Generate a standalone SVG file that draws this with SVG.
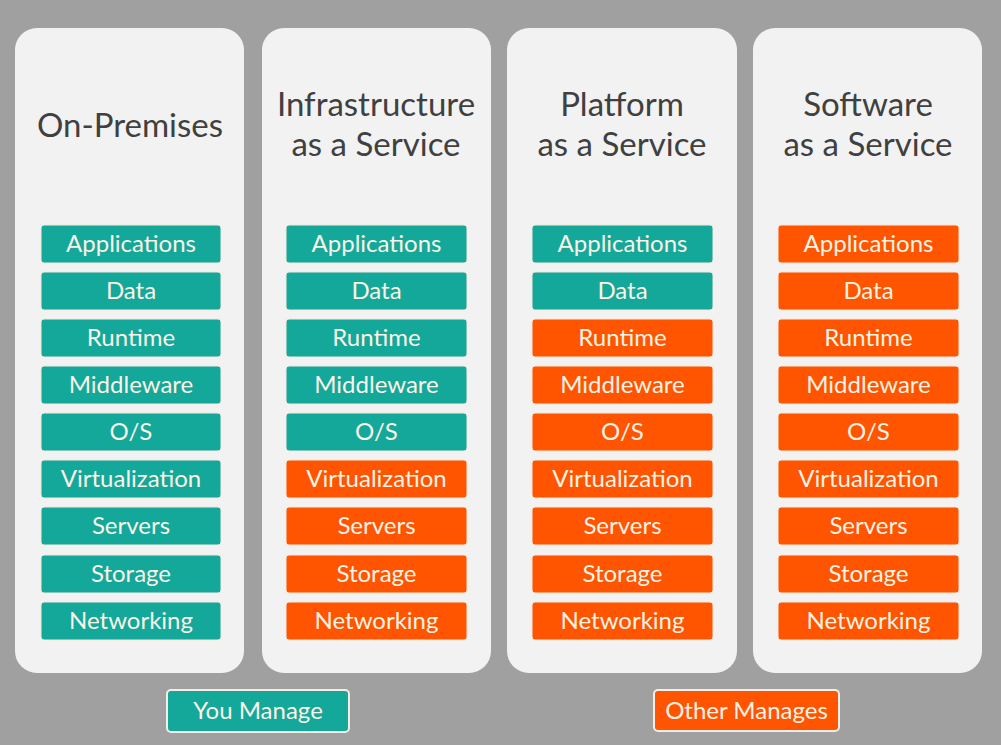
<svg xmlns="http://www.w3.org/2000/svg" width="1001" height="745" viewBox="0 0 1001 745">
<style>
.bg{fill:#a0a0a0}
.panel{fill:#f2f2f2}
.title{font-family:Lato,"Liberation Sans",sans-serif;font-size:33px;fill:#404040;text-anchor:middle}
.box{stroke:#f6e9dc;stroke-width:1}
.you{fill:#13a89a}
.other{fill:#ff5500}
.lbl{font-family:Lato,"Liberation Sans",sans-serif;font-size:24px;fill:#fbf3e6;text-anchor:middle}
.leg{stroke:#f3efe6;stroke-width:2}
</style>
<rect class="bg" x="0" y="0" width="1001" height="745"/>
<g id="panel-onprem">
<rect class="panel" x="15" y="28" width="229" height="645" rx="22"/>
<text class="title" x="130" y="137">On-Premises</text>
<rect class="box you" x="41" y="225" width="180" height="38" rx="3"/><text class="lbl" x="131" y="252">Applications</text>
<rect class="box you" x="41" y="272" width="180" height="38" rx="3"/><text class="lbl" x="131" y="299">Data</text>
<rect class="box you" x="41" y="319" width="180" height="38" rx="3"/><text class="lbl" x="131" y="346">Runtime</text>
<rect class="box you" x="41" y="366" width="180" height="38" rx="3"/><text class="lbl" x="131" y="393">Middleware</text>
<rect class="box you" x="41" y="413" width="180" height="38" rx="3"/><text class="lbl" x="131" y="440">O/S</text>
<rect class="box you" x="41" y="460" width="180" height="38" rx="3"/><text class="lbl" x="131" y="487">Virtualization</text>
<rect class="box you" x="41" y="507" width="180" height="38" rx="3"/><text class="lbl" x="131" y="534">Servers</text>
<rect class="box you" x="41" y="555" width="180" height="38" rx="3"/><text class="lbl" x="131" y="582">Storage</text>
<rect class="box you" x="41" y="602" width="180" height="38" rx="3"/><text class="lbl" x="131" y="629">Networking</text>
</g>
<g id="panel-iaas">
<rect class="panel" x="262" y="28" width="229" height="645" rx="22"/>
<text class="title" x="376" y="116">Infrastructure</text>
<text class="title" x="376" y="156">as a Service</text>
<rect class="box you" x="286" y="225" width="181" height="38" rx="3"/><text class="lbl" x="376.5" y="252">Applications</text>
<rect class="box you" x="286" y="272" width="181" height="38" rx="3"/><text class="lbl" x="376.5" y="299">Data</text>
<rect class="box you" x="286" y="319" width="181" height="38" rx="3"/><text class="lbl" x="376.5" y="346">Runtime</text>
<rect class="box you" x="286" y="366" width="181" height="38" rx="3"/><text class="lbl" x="376.5" y="393">Middleware</text>
<rect class="box you" x="286" y="413" width="181" height="38" rx="3"/><text class="lbl" x="376.5" y="440">O/S</text>
<rect class="box other" x="286" y="460" width="181" height="38" rx="3"/><text class="lbl" x="376.5" y="487">Virtualization</text>
<rect class="box other" x="286" y="507" width="181" height="38" rx="3"/><text class="lbl" x="376.5" y="534">Servers</text>
<rect class="box other" x="286" y="555" width="181" height="38" rx="3"/><text class="lbl" x="376.5" y="582">Storage</text>
<rect class="box other" x="286" y="602" width="181" height="38" rx="3"/><text class="lbl" x="376.5" y="629">Networking</text>
</g>
<g id="panel-paas">
<rect class="panel" x="507" y="28" width="230" height="645" rx="22"/>
<text class="title" x="622" y="116">Platform</text>
<text class="title" x="622" y="156">as a Service</text>
<rect class="box you" x="532" y="225" width="181" height="38" rx="3"/><text class="lbl" x="622.5" y="252">Applications</text>
<rect class="box you" x="532" y="272" width="181" height="38" rx="3"/><text class="lbl" x="622.5" y="299">Data</text>
<rect class="box other" x="532" y="319" width="181" height="38" rx="3"/><text class="lbl" x="622.5" y="346">Runtime</text>
<rect class="box other" x="532" y="366" width="181" height="38" rx="3"/><text class="lbl" x="622.5" y="393">Middleware</text>
<rect class="box other" x="532" y="413" width="181" height="38" rx="3"/><text class="lbl" x="622.5" y="440">O/S</text>
<rect class="box other" x="532" y="460" width="181" height="38" rx="3"/><text class="lbl" x="622.5" y="487">Virtualization</text>
<rect class="box other" x="532" y="507" width="181" height="38" rx="3"/><text class="lbl" x="622.5" y="534">Servers</text>
<rect class="box other" x="532" y="555" width="181" height="38" rx="3"/><text class="lbl" x="622.5" y="582">Storage</text>
<rect class="box other" x="532" y="602" width="181" height="38" rx="3"/><text class="lbl" x="622.5" y="629">Networking</text>
</g>
<g id="panel-saas">
<rect class="panel" x="753" y="28" width="229" height="645" rx="22"/>
<text class="title" x="868" y="116">Software</text>
<text class="title" x="868" y="156">as a Service</text>
<rect class="box other" x="778" y="225" width="181" height="38" rx="3"/><text class="lbl" x="868.5" y="252">Applications</text>
<rect class="box other" x="778" y="272" width="181" height="38" rx="3"/><text class="lbl" x="868.5" y="299">Data</text>
<rect class="box other" x="778" y="319" width="181" height="38" rx="3"/><text class="lbl" x="868.5" y="346">Runtime</text>
<rect class="box other" x="778" y="366" width="181" height="38" rx="3"/><text class="lbl" x="868.5" y="393">Middleware</text>
<rect class="box other" x="778" y="413" width="181" height="38" rx="3"/><text class="lbl" x="868.5" y="440">O/S</text>
<rect class="box other" x="778" y="460" width="181" height="38" rx="3"/><text class="lbl" x="868.5" y="487">Virtualization</text>
<rect class="box other" x="778" y="507" width="181" height="38" rx="3"/><text class="lbl" x="868.5" y="534">Servers</text>
<rect class="box other" x="778" y="555" width="181" height="38" rx="3"/><text class="lbl" x="868.5" y="582">Storage</text>
<rect class="box other" x="778" y="602" width="181" height="38" rx="3"/><text class="lbl" x="868.5" y="629">Networking</text>
</g>
<g id="legend-you">
<rect class="leg you" x="167" y="690" width="182" height="42" rx="4"/>
<text class="lbl" x="258" y="719">You Manage</text>
</g>
<g id="legend-other">
<rect class="leg other" x="654" y="690" width="185" height="41" rx="4"/>
<text class="lbl" x="746.5" y="719">Other Manages</text>
</g>
<g id="connectors"></g>
</svg>
